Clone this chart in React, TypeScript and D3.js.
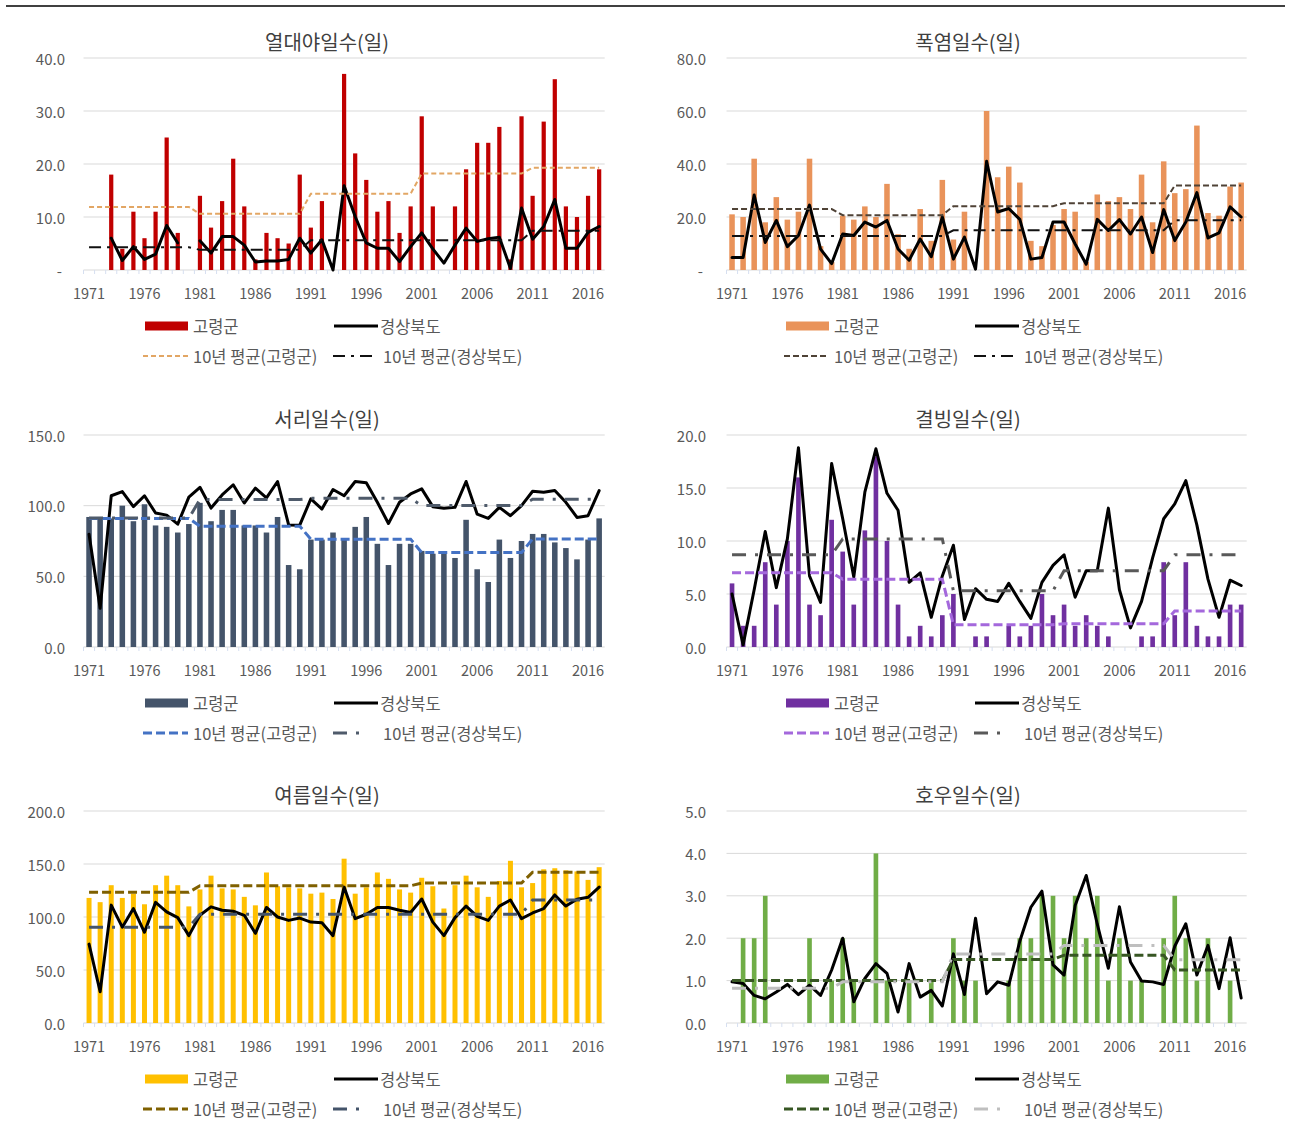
import React from "react";
import * as d3 from "d3";

// ---------- categories ----------
const years: number[] = d3.range(1971, 2018);
const tickYears = [1971, 1976, 1981, 1986, 1991, 1996, 2001, 2006, 2011, 2016];
const periodStarts = [1971, 1981, 1991, 2001, 2011];

// ---------- 열대야일수 ----------
const tropGR = [null, null, 18, 4, 11, 6, 11, 25, 7, 0,
  14, 8, 13, 21, 12, 2, 7, 6, 5, 18,
  8, 13, 0, 37, 22, 17, 11, 13, 7, 12,
  29, 12, 0, 12, 19, 24, 24, 27, 2, 29,
  14, 28, 36, 12, 10, 14, 19];
const tropGB = [null, null, 6.0, 1.8, 4.4, 2.0, 3.0, 8.4, 5.1, null,
  5.5, 3.2, 6.3, 6.3, 4.7, 1.5, 1.7, 1.7, 2.0, 6.0,
  3.2, 5.7, 0.0, 15.9, 10.1, 5.1, 4.1, 4.1, 1.6, 4.4,
  7.0, 4.0, 1.3, 4.7, 7.9, 5.4, 5.9, 6.2, 0.3, 11.7,
  5.8, 8.2, 13.3, 4.1, 4.1, 7.1, 8.2];
const tropAvgGR = [11.9, 10.6, 14.4, 18.2, 19.3];
const tropAvgGB = [4.3, 3.8, 5.6, 5.6, 7.4];

// ---------- 폭염일수 ----------
const heatGR = [21, 20, 42, 18, 27.5, 19, 22, 42, 9, 3,
  20.5, 19, 24, 20, 32.5, 13.5, 8, 23, 11, 34,
  11.5, 22, 0, 60, 35, 39, 33, 11, 9, 17,
  23, 22, 3, 28.5, 26, 27.5, 23, 36, 18, 41,
  29, 30.5, 54.5, 21.5, 20.5, 31.5, 33];
const heatGB = [4.7, 4.7, 28.3, 10.4, 18.7, 8.8, 13, 24.5, 7.9, 2.4,
  13.6, 13, 18.1, 16.2, 18.7, 7.9, 3.7, 11.7, 5, 20,
  4.1, 12.4, 0.3, 41, 21.9, 23.2, 19.1, 4.1, 4.7, 18.1,
  18.1, 9.8, 2.2, 19.1, 14.9, 19, 13.6, 20, 6.6, 22.8,
  11.1, 18.1, 29.2, 12.1, 14, 23.8, 20];
const heatAvgGR = [23, 20.7, 24.1, 25.2, 31.9];
const heatAvgGB = [12.8, 12.8, 15, 15, 18.8];

// ---------- 서리일수 ----------
const frostGR = [92, 92, 91, 100, 89, 101, 86, 85, 81, 87,
  102, 89, 97, 97, 86, 86, 81, 92, 58, 55,
  76, 76, 81, 76, 85, 92, 73, 58, 73, 73,
  68, 66, 66, 63, 90, 55, 46, 76, 63, 75,
  80, 80, 74, 70, 62, 76, 91];
const frostGB = [79.8, 27.4, 107, 110, 99.3, 107, 94.8, 93.3, 86.9, 106,
  113, 98.3, 107.6, 114.8, 101.9, 112.4, 105.5, 117.1, 86.4, 86.2,
  104.8, 97.6, 111.4, 107, 117.1, 116.2, 102.4, 87.4, 102.4, 108.3,
  111.9, 99.3, 98.1, 98.8, 117.1, 94, 91, 98.8, 92.9, 100,
  110.2, 109.5, 110.7, 102.4, 91.7, 92.9, 110.7];
const frostAvgGR = [91, 85.5, 76.3, 66.8, 76.5];
const frostAvgGB = [91.2, 104.3, 105.2, 100.1, 104.5];

// ---------- 결빙일수 ----------
const iceGR = [6, 2, 2, 8, 4, 10, 16, 4, 3, 12,
  9, 4, 11, 18, 10, 4, 1, 2, 1, 3,
  5, 0, 1, 1, 0, 2, 1, 2, 5, 3,
  4, 2, 3, 2, 1, 0, 0, 1, 1, 8,
  3, 8, 2, 1, 1, 4, 4];
const iceGB = [5.0, 0.2, 5.4, 10.9, 5.6, 10.2, 18.8, 6.7, 4.2, 17.3,
  12.1, 6.6, 14.6, 18.7, 14.5, 12.9, 6.1, 7.0, 2.8, 6.7,
  9.6, 2.6, 5.5, 4.5, 4.3, 6.0, 4.3, 2.7, 6.1, 7.7,
  8.7, 4.7, 7.2, 7.2, 13.1, 5.4, 1.8, 4.3, 8.4, 12.1,
  13.5, 15.7, 11.5, 6.4, 2.8, 6.3, 5.8];
const iceAvgGR = [7.0, 6.4, 2.1, 2.2, 3.4];
const iceAvgGB = [8.7, 10.2, 5.3, 7.2, 8.7];

// ---------- 여름일수 ----------
const summerGR = [118, 114, 130, 118, 122, 112, 130, 139, 130, 110,
  126, 139, 127, 126, 119, 111, 142, 129, 128, 127,
  122, 123, 117, 155, 122, 128, 142, 136, 126, 123,
  137, 129, 108, 130, 139, 128, 119, 134, 153, 128,
  132, 145, 146, 144, 143, 135, 147];
const summerGB = [74.4, 29.5, 111.2, 90.4, 108, 85.6, 113.8, 104.8, 99.4, 82.4,
  101.6, 109.6, 106.4, 105.4, 101.6, 84.6, 109, 100, 96.8, 99,
  95.2, 94.6, 82.4, 128.2, 98.4, 102.6, 109, 109, 106.4, 104.2,
  117, 95.2, 82.4, 99.4, 110.3, 100.6, 96.8, 110.3, 116, 98.4,
  103.8, 108, 120.8, 110.3, 116.7, 118.6, 128.2];
const summerAvgGR = [123.4, 129.5, 129.5, 132, 142.3];
const summerAvgGB = [90.4, 102.6, 102.6, 102.6, 116];

// ---------- 호우일수 ----------
const rainGR = [0, 2, 2, 3, 0, 0, 0, 2, 0, 1,
  2, 1, 0, 4, 1, 0, 1, 0, 1, 0,
  2, 1, 1, 0, 0, 1, 2, 2, 3, 3,
  2, 3, 2, 3, 1, 2, 1, 1, 0, 2,
  3, 2, 1, 2, 0, 1, 0];
const rainGB = [0.97, 0.93, 0.65, 0.57, 0.73, 0.91, 0.67, 0.89, 0.65, 1.25,
  2.0, 0.5, 1.05, 1.4, 1.17, 0.26, 1.4, 0.61, 0.77, 0.4,
  1.63, 0.67, 2.47, 0.69, 0.97, 0.89, 1.93, 2.73, 3.11, 1.37,
  1.13, 2.77, 3.48, 2.33, 1.29, 2.74, 1.44, 0.99, 0.97, 0.91,
  1.81, 2.34, 1.13, 1.83, 0.81, 2.01, 0.59];
const rainAvgGR = [1.0, 1.0, 1.5, 1.6, 1.25];
const rainAvgGB = [0.82, 0.97, 1.63, 1.83, 1.49];

// ---------- labels ----------
const titles = ["열대야일수(일)", "폭염일수(일)", "서리일수(일)", "결빙일수(일)", "여름일수(일)", "호우일수(일)"];
const seriesNames = ["고령군", "경상북도", "10년 평균(고령군)", "10년 평균(경상북도)"];

type Spec = {
  title: string; yMax: number; yStep: number; zeroDash: boolean;
  bars: (number | null)[]; line: (number | null)[]; avgGR: number[]; avgGB: number[];
  barColor: string; barFrac: number; grColor: string; gbColor: string;
  grDash: string; gbDash: string; avgWidth: number; col: number; row: number; gbLegendLen: number;
};

const specs: Spec[] = [
  { title: titles[0], yMax: 40, yStep: 10, zeroDash: true, bars: tropGR, line: tropGB, avgGR: tropAvgGR, avgGB: tropAvgGB,
    barColor: "#c00000", barFrac: 0.38, grColor: "#e2a664", gbColor: "#111111", grDash: "5,3", gbDash: "12,6,3,6", avgWidth: 2, col: 0, row: 0, gbLegendLen: 43 },
  { title: titles[1], yMax: 80, yStep: 20, zeroDash: true, bars: heatGR, line: heatGB, avgGR: heatAvgGR, avgGB: heatAvgGB,
    barColor: "#e9935a", barFrac: 0.5, grColor: "#4f4236", gbColor: "#111111", grDash: "6,3", gbDash: "12,6,3,6", avgWidth: 2, col: 1, row: 0, gbLegendLen: 43 },
  { title: titles[2], yMax: 150, yStep: 50, zeroDash: false, bars: frostGR, line: frostGB, avgGR: frostAvgGR, avgGB: frostAvgGB,
    barColor: "#44546a", barFrac: 0.5, grColor: "#4472c4", gbColor: "#4f5b6b", grDash: "9,4", gbDash: "14,9,3,9", avgWidth: 3, col: 0, row: 1, gbLegendLen: 34 },
  { title: titles[3], yMax: 20, yStep: 5, zeroDash: false, bars: iceGR, line: iceGB, avgGR: iceAvgGR, avgGB: iceAvgGB,
    barColor: "#7030a0", barFrac: 0.42, grColor: "#a468dc", gbColor: "#595959", grDash: "9,4", gbDash: "14,9,3,9", avgWidth: 3, col: 1, row: 1, gbLegendLen: 34 },
  { title: titles[4], yMax: 200, yStep: 50, zeroDash: false, bars: summerGR, line: summerGB, avgGR: summerAvgGR, avgGB: summerAvgGB,
    barColor: "#ffc000", barFrac: 0.45, grColor: "#7f6000", gbColor: "#44546a", grDash: "9,4", gbDash: "14,9,3,9", avgWidth: 3, col: 0, row: 2, gbLegendLen: 34 },
  { title: titles[5], yMax: 5, yStep: 1, zeroDash: false, bars: rainGR, line: rainGB, avgGR: rainAvgGR, avgGB: rainAvgGB,
    barColor: "#70ad47", barFrac: 0.42, grColor: "#375623", gbColor: "#bfbfbf", grDash: "9,4", gbDash: "14,9,3,9", avgWidth: 3, col: 1, row: 2, gbLegendLen: 34 },
];

const COLS = [
  { plotL: 83.5, plotR: 604.7, labelR: 65, titleX: 327, ox: 0 },
  { plotL: 726.5, plotR: 1246.7, labelR: 706, titleX: 968, ox: 641 },
];
const ROW_TOPS = [58, 435, 811];
const PLOT_H = 212;
const FONT = "'Noto Sans CJK KR', 'Noto Sans', sans-serif";
const TEXT = "#595959";

function Panel({ s }: { s: Spec }) {
  const C = COLS[s.col];
  const top = ROW_TOPS[s.row];
  const bottom = top + PLOT_H;
  const x = d3.scaleBand<number>().domain(years).range([C.plotL, C.plotR]).paddingInner(0).paddingOuter(0);
  const y = d3.scaleLinear().domain([0, s.yMax]).range([bottom, top]);
  const bw = x.bandwidth();
  const cx = (yr: number) => (x(yr) as number) + bw / 2;
  const ticks = y.ticks(Math.round(s.yMax / s.yStep));
  const fmt = d3.format(".1f");

  const lineGen = d3.line<[number, number | null]>()
    .defined((d) => d[1] != null)
    .x((d) => cx(d[0]))
    .y((d) => y(d[1] as number));

  const lineData: [number, number | null][] = years.map((yr, i) => [yr, s.line[i]]);
  const periodOf = (yr: number) => d3.bisectRight(periodStarts, yr) - 1;
  const grData: [number, number | null][] = years.map((yr) => [yr, s.avgGR[periodOf(yr)]]);
  const gbData: [number, number | null][] = years.map((yr) => [yr, s.avgGB[periodOf(yr)]]);

  const ox = C.ox;
  const l1 = bottom + 56;
  const l2 = bottom + 86;
  const LFS = 16.5;

  return (
    <g>
      <text x={C.titleX} y={top - 17} textAnchor="middle" dominantBaseline="central"
        fontSize={20} fill="#404040" fontFamily={FONT}>{s.title}</text>
      {ticks.map((t) => (
        <g key={t}>
          <line x1={C.plotL} x2={C.plotR} y1={y(t)} y2={y(t)} stroke="#d9d9d9" strokeWidth={1} />
          <text x={t === 0 && s.zeroDash ? C.labelR - 3 : C.labelR} y={y(t)} textAnchor="end" dominantBaseline="central"
            fontSize={15} fill={TEXT} fontFamily={FONT}>{t === 0 && s.zeroDash ? "-" : fmt(t)}</text>
        </g>
      ))}
      {years.map((yr) => (
        <line key={"tk" + yr} x1={x(yr) as number} x2={x(yr) as number} y1={bottom} y2={bottom + 4}
          stroke="#d6dff0" strokeWidth={1} />
      ))}
      {tickYears.map((yr) => (
        <text key={"xl" + yr} x={cx(yr)} y={bottom + 22} textAnchor="middle" dominantBaseline="central"
          fontSize={14.5} fill={TEXT} fontFamily={FONT}>{yr}</text>
      ))}
      {years.map((yr, i) => {
        const v = s.bars[i];
        if (v == null || v === 0) return null;
        const w = bw * s.barFrac;
        return <rect key={"b" + yr} x={cx(yr) - w / 2} y={y(v)} width={w} height={bottom - y(v)} fill={s.barColor} />;
      })}
      <path d={lineGen(lineData) || ""} fill="none" stroke="#000" strokeWidth={3} strokeLinejoin="round" strokeLinecap="round" />
      <path d={lineGen(grData) || ""} fill="none" stroke={s.grColor} strokeWidth={s.avgWidth} strokeDasharray={s.grDash} />
      <path d={lineGen(gbData) || ""} fill="none" stroke={s.gbColor} strokeWidth={s.avgWidth} strokeDasharray={s.gbDash} />

      {/* legend */}
      <rect x={145 + ox} y={l1 - 4.5} width={43} height={9} fill={s.barColor} />
      <text x={193 + ox} y={l1} dominantBaseline="central" fontSize={LFS} fill={TEXT} fontFamily={FONT}>{seriesNames[0]}</text>
      <line x1={334 + ox} x2={378 + ox} y1={l1} y2={l1} stroke="#000" strokeWidth={3} />
      <text x={380 + ox} y={l1} dominantBaseline="central" fontSize={LFS} fill={TEXT} fontFamily={FONT}>{seriesNames[1]}</text>
      <line x1={143 + ox} x2={188 + ox} y1={l2} y2={l2} stroke={s.grColor} strokeWidth={s.avgWidth} strokeDasharray={s.grDash} />
      <text x={193 + ox} y={l2} dominantBaseline="central" fontSize={LFS} fill={TEXT} fontFamily={FONT}>{seriesNames[2]}</text>
      <line x1={333 + ox} x2={333 + s.gbLegendLen + ox} y1={l2} y2={l2} stroke={s.gbColor} strokeWidth={s.avgWidth} strokeDasharray={s.gbDash} />
      <text x={383 + ox} y={l2} dominantBaseline="central" fontSize={LFS} fill={TEXT} fontFamily={FONT}>{seriesNames[3]}</text>
    </g>
  );
}

export default function App() {
  return (
    <div style={{ position: "absolute", left: 0, top: 0, width: 1291, height: 1132, background: "#fff" }}>
      <svg width={1291} height={1132} style={{ display: "block" }}>
        <rect x={0} y={0} width={1291} height={1132} fill="#fff" />
        <line x1={6} x2={1285} y1={6} y2={6} stroke="#000" strokeWidth={1.5} />
        {specs.map((s, i) => <Panel key={i} s={s} />)}
      </svg>
    </div>
  );
}
